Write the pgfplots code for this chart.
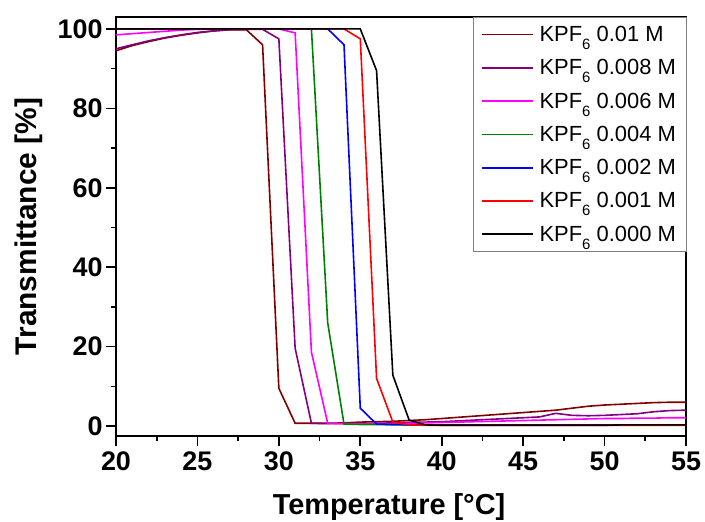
\documentclass[border=0pt]{standalone}
\usepackage{fontspec}
\setmainfont{Liberation Sans}
\usepackage{pgfplots}
\pgfplotsset{compat=1.18}
\definecolor{wine}{RGB}{128,0,0}
\definecolor{opurple}{RGB}{128,0,128}
\definecolor{omag}{RGB}{255,0,255}
\definecolor{ogreen}{RGB}{0,128,0}
\definecolor{oblue}{RGB}{0,0,255}
\definecolor{ored}{RGB}{255,0,0}
\newcommand{\sub}[1]{\raisebox{-8bp}{\fontsize{15}{15}\selectfont #1}}

\pgfplotstableread{
x a b c d e f g
20 94.5 95.0 98.5 100 100 100 100
21 95.8 96.0 98.8 100 100 100 100
22 96.8 97.0 99.1 100 100 100 100
23 97.7 97.8 99.4 100 100 100 100
24 98.4 98.5 99.7 100 100 100 100
25 99.0 99.1 99.9 100 100 100 100
26 99.5 99.5 100 100 100 100 100
27 99.8 99.8 100 100 100 100 100
28 99.8 99.9 100 100 100 100 100
29 96.0 99.9 100 100 100 100 100
30 9.5 97.5 100 100 100 100 100
31 0.7 19.6 99.0 100 100 100 100
32 0.7 0.7 18.6 100 100 100 100
33 0.7 0.6 0.7 26.0 100 100 100
34 0.8 0.6 0.6 0.5 96.0 100 100
35 1.0 0.6 0.6 0.4 4.5 97.5 100
36 1.1 0.7 0.6 0.4 0.5 12.0 89.5
37 1.2 0.8 0.6 0.3 0.4 1.0 12.8
38 1.4 0.9 0.7 0.3 0.3 0.3 1.5
39 1.6 1.0 0.8 0.3 0.3 0.2 0.3
40 1.9 1.1 0.9 0.3 0.3 0.2 0.2
41 2.2 1.3 1.0 0.3 0.3 0.2 0.2
42 2.5 1.5 1.1 0.3 0.3 0.2 0.2
43 2.8 1.7 1.2 0.3 0.3 0.2 0.2
44 3.1 1.9 1.3 0.3 0.3 0.2 0.2
45 3.4 2.1 1.4 0.3 0.3 0.2 0.2
46 3.7 2.3 1.5 0.3 0.3 0.2 0.2
47 4.0 3.2 1.6 0.3 0.3 0.2 0.2
48 4.5 2.7 1.7 0.3 0.3 0.2 0.2
49 5.0 2.6 1.8 0.3 0.3 0.2 0.2
50 5.3 2.7 1.9 0.3 0.3 0.2 0.2
51 5.5 2.9 1.9 0.3 0.3 0.2 0.3
52 5.7 3.1 2.0 0.3 0.3 0.2 0.3
53 5.9 3.6 2.0 0.3 0.3 0.2 0.3
54 6.0 3.9 2.1 0.3 0.3 0.2 0.3
55 6.0 4.0 2.1 0.3 0.3 0.2 0.3
}\data

\begin{document}
\begin{tikzpicture}
\begin{axis}[
 scale only axis, width=570bp, height=419bp,
 xmin=20, xmax=55, ymin=-2.5, ymax=103,
 xtick={20,25,...,55}, minor xtick={22.5,27.5,...,52.5},
 ytick={0,20,...,100}, minor ytick={10,30,...,90},
 tick align=outside, xtick pos=bottom, ytick pos=left,
 major tick length=10bp, minor tick length=5bp,
 axis line style={line width=2bp},
 tick style={line width=1.6bp, black},
 /pgf/number format/assume math mode=true,
 tick label style={font=\fontsize{27}{30}\selectfont\bfseries},
 xticklabel style={yshift=-2bp},
 xlabel={Temperature [°C]}, ylabel={Transmittance [\%]},
 xlabel style={font=\fontsize{29}{32}\selectfont\bfseries, at={(axis description cs:0.479,-0.1885)}, anchor=base},
 ylabel style={font=\fontsize{30}{32}\selectfont\bfseries, at={(axis description cs:-0.1386,0.5)}, anchor=base},
 legend style={at={(1,1)}, anchor=north east, draw=gray,
   font=\fontsize{22}{24}\selectfont, row sep=12.5bp, inner xsep=8bp, inner ysep=7bp},
 legend cell align=left,
 legend image code/.code={\draw[#1] (0bp,0bp) -- (51bp,0bp); \path (55bp,0bp);},
]
\addplot[wine, line width=1.6bp] table[x=x,y=a] {\data};
\addlegendentry{KPF\sub{6} 0.01 M}
\addplot[opurple, line width=1.6bp] table[x=x,y=b] {\data};
\addlegendentry{KPF\sub{6} 0.008 M}
\addplot[omag, line width=1.6bp] table[x=x,y=c] {\data};
\addlegendentry{KPF\sub{6} 0.006 M}
\addplot[ogreen, line width=1.6bp] table[x=x,y=d] {\data};
\addlegendentry{KPF\sub{6} 0.004 M}
\addplot[oblue, line width=1.6bp] table[x=x,y=e] {\data};
\addlegendentry{KPF\sub{6} 0.002 M}
\addplot[ored, line width=1.6bp] table[x=x,y=f] {\data};
\addlegendentry{KPF\sub{6} 0.001 M}
\addplot[black, line width=1.6bp] table[x=x,y=g] {\data};
\addlegendentry{KPF\sub{6} 0.000 M}
\coordinate (SW) at (rel axis cs:0,0);
\coordinate (NE) at (rel axis cs:1,1);
\end{axis}
\pgfresetboundingbox
\path ([shift={(-116bp,-86bp)}]SW) rectangle ([shift={(19bp,17bp)}]NE);
\end{tikzpicture}
\end{document}
